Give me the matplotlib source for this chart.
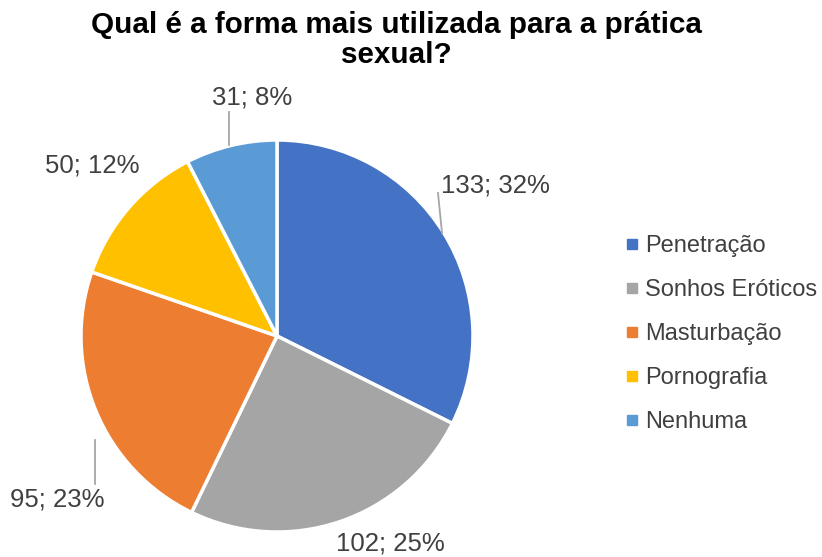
import matplotlib
matplotlib.use("Agg")
import matplotlib.pyplot as plt
from matplotlib.lines import Line2D
import numpy as np

plt.rcParams['font.family'] = ['Liberation Sans', 'DejaVu Sans']

categories = ["Penetração", "Sonhos Eróticos", "Masturbação", "Pornografia", "Nenhuma"]
values = [133, 102, 95, 50, 31]
percents = ["32%", "25%", "23%", "12%", "8%"]
colors = ["#4472C4", "#A5A5A5", "#ED7D31", "#FFC000", "#5B9BD5"]

W, H = 822, 557
fig = plt.figure(figsize=(W / 100, H / 100), dpi=100)
cx, cy, R = 277, 336, 196
ax = fig.add_axes([(cx - R) / W, (H - cy - R) / H, 2 * R / W, 2 * R / H])

wedges, _ = ax.pie(values, colors=colors, startangle=90, counterclock=False,
                   radius=1, center=(0, 0),
                   wedgeprops=dict(edgecolor="white", linewidth=2.5))
ax.set_xlim(-1, 1)
ax.set_ylim(-1, 1)
ax.set_aspect("auto")
ax.axis("off")

def px(x, y):
    return ((x - cx) / R, (cy - y) / R)

# label positions (pixel layout), leader lines
label_pos = [(441, 185, "left"), (390, 543, "center"), (57, 500, "center"),
             (92, 166, "center"), (252, 98, "center")]
leaders = [((442, 233), (438, 193)), None, ((95, 440), (95, 484)), None,
           ((229, 145), (229, 112))]
for v, p, (lx, ly, ha), ld in zip(values, percents, label_pos, leaders):
    x, y = px(lx, ly)
    ax.text(x, y, f"{v}; {p}", ha=ha, va="center", fontsize=18.5,
            color="#404040", clip_on=False)
    if ld is not None:
        (x1, y1), (x2, y2) = ld
        a, b = px(x1, y1)
        c, d = px(x2, y2)
        ax.plot([a, c], [b, d], color="#A6A6A6", lw=1.3, clip_on=False)

fig.text(396 / W, 1 - 40 / H, "Qual é a forma mais utilizada para a prática\nsexual?",
         ha="center", va="center", fontsize=21.3, fontweight="bold",
         color="#000000", linespacing=1.12)

handles = [Line2D([], [], marker="s", linestyle="none", markersize=7,
                  markerfacecolor=c, markeredgecolor=c) for c in colors]
leg = fig.legend(handles, categories, loc="upper left",
                 bbox_to_anchor=(627 / W, 1 - 235 / H), frameon=False,
                 fontsize=17, labelspacing=0.93, handlelength=0.45,
                 handletextpad=0.3, borderpad=0, borderaxespad=0)
for t in leg.get_texts():
    t.set_color("#404040")

fig.savefig("out.png", dpi=100, facecolor="white")
